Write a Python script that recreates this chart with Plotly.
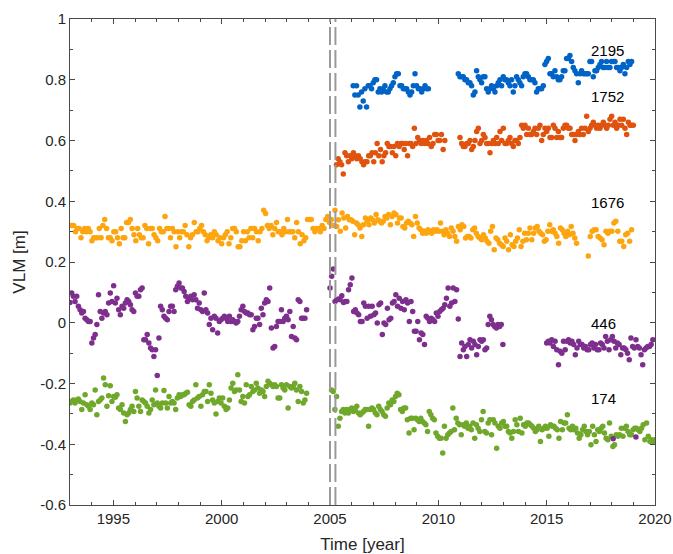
import numpy as np
import plotly.graph_objects as go

# ---------------- data (VLM in metres, time in decimal years) ----------------
# station 2195 (blue)
blue_seg_times = [(2006.07, 2009.54), (2010.92, 2018.92)]
blue_a = [0.78,0.75,0.78,0.75,0.71,0.76,0.73,0.77,0.71,0.78,0.78,0.77,0.79,0.80,0.80,0.76,0.77,0.76,0.77,0.78,
          0.76,0.76,0.77,0.78,0.79,0.81,0.82,0.82,0.78,0.78,0.77,0.77,0.77,0.76,0.75,0.76,0.78,0.82,0.78,0.77,
          0.77,0.76,0.77,0.78,0.77,0.77]
blue_b = [0.82,0.81,0.81,0.81,0.80,0.80,0.79,0.79,0.78,0.75,0.76,0.83,0.81,0.80,0.79,0.81,0.81,0.77,0.76,0.77,
          0.78,0.77,0.76,0.78,0.79,0.80,0.78,0.81,0.80,0.80,0.79,0.78,0.80,0.76,0.78,0.81,0.80,0.79,0.78,0.81,
          0.82,0.82,0.81,0.80,0.80,0.80,0.79,0.76,0.77,0.77,0.77,0.78,0.85,0.86,0.87,0.82,0.82,0.81,0.83,0.81,
          0.80,0.80,0.81,0.83,0.83,0.87,0.87,0.88,0.86,0.84,0.83,0.82,0.79,0.82,0.83,0.82,0.82,0.82,0.82,0.86,
          0.86,0.81,0.83,0.83,0.84,0.85,0.86,0.84,0.84,0.86,0.84,0.84,0.86,0.86,0.86,0.84,0.84,0.83,0.84,0.85,
          0.82,0.84,0.86,0.85,0.86]

# station 1752 (orange)
orange_seg_times = [(2005.30, 2010.30), (2011.00, 2019.00)]
orange_a = [0.52,0.54,0.53,0.52,0.49,0.56,0.55,0.53,0.55,0.54,0.56,0.55,0.54,0.55,0.54,0.53,0.52,0.53,0.53,0.55,
            0.55,0.56,0.53,0.56,0.59,0.55,0.57,0.53,0.55,0.56,0.59,0.58,0.58,0.56,0.58,0.55,0.59,0.58,0.59,0.59,
            0.57,0.59,0.55,0.59,0.59,0.58,0.64,0.59,0.61,0.60,0.59,0.60,0.59,0.60,0.59,0.61,0.58,0.59,0.62,0.62,
            0.60,0.60,0.62,0.57,0.60]
orange_b = [0.61,0.59,0.58,0.58,0.59,0.59,0.60,0.57,0.58,0.60,0.63,0.64,0.59,0.60,0.62,0.61,0.59,0.59,0.56,0.59,
            0.60,0.59,0.61,0.59,0.63,0.60,0.64,0.59,0.59,0.60,0.61,0.59,0.58,0.60,0.60,0.59,0.61,0.65,0.64,0.65,
            0.62,0.64,0.62,0.62,0.63,0.64,0.62,0.64,0.65,0.60,0.62,0.64,0.63,0.64,0.61,0.61,0.65,0.64,0.61,0.63,
            0.61,0.61,0.64,0.65,0.65,0.64,0.64,0.62,0.62,0.60,0.62,0.63,0.62,0.64,0.62,0.64,0.68,0.63,0.64,0.65,
            0.66,0.65,0.64,0.65,0.64,0.65,0.66,0.65,0.64,0.65,0.67,0.68,0.65,0.66,0.64,0.65,0.67,0.65,0.67,0.64,
            0.62,0.66,0.65,0.65,0.65]

# station 1676 (yellow)
yellow_seg_times = [(1993.00, 2005.23), (2005.31, 2016.38), (2016.92, 2018.92)]
yellow_a = [0.32,0.32,0.32,0.30,0.31,0.31,0.28,0.30,0.31,0.30,0.31,0.30,0.27,0.28,0.28,0.28,0.31,0.28,0.32,0.34,
            0.31,0.28,0.28,0.27,0.30,0.30,0.28,0.26,0.31,0.28,0.28,0.33,0.33,0.34,0.31,0.29,0.27,0.31,0.29,0.28,
            0.28,0.32,0.31,0.26,0.31,0.31,0.29,0.28,0.27,0.31,0.30,0.30,0.35,0.31,0.31,0.28,0.31,0.30,0.25,0.30,
            0.28,0.30,0.30,0.32,0.29,0.25,0.28,0.29,0.33,0.30,0.30,0.31,0.32,0.30,0.29,0.27,0.28,0.29,0.28,0.30,
            0.29,0.27,0.28,0.26,0.28,0.29,0.30,0.26,0.28,0.31,0.31,0.30,0.25,0.25,0.27,0.30,0.27,0.30,0.28,0.31,
            0.28,0.31,0.30,0.27,0.30,0.31,0.37,0.36,0.32,0.31,0.32,0.29,0.31,0.33,0.30,0.30,0.29,0.31,0.30,0.34,
            0.30,0.30,0.30,0.28,0.33,0.30,0.26,0.29,0.27,0.28,0.34,0.34,0.34,0.31,0.30,0.31,0.31,0.30,0.32,0.31,
            0.34,0.35,0.33,0.34,0.32,0.37]
yellow_b = [0.317,0.339,0.301,0.361,0.345,0.312,0.350,0.339,0.339,0.334,0.290,0.328,0.323,0.312,0.284,0.323,0.345,
            0.334,0.323,0.345,0.339,0.328,0.356,0.339,0.334,0.328,0.334,0.350,0.345,0.356,0.323,0.350,0.361,0.356,
            0.328,0.345,0.345,0.317,0.312,0.328,0.334,0.328,0.323,0.284,0.350,0.328,0.312,0.306,0.295,0.301,0.295,
            0.306,0.301,0.295,0.306,0.301,0.306,0.301,0.328,0.301,0.290,0.306,0.295,0.284,0.312,0.301,0.284,0.268,
            0.317,0.306,0.323,0.317,0.279,0.284,0.284,0.279,0.306,0.312,0.295,0.284,0.279,0.273,0.290,0.279,0.268,
            0.262,0.301,0.317,0.240,0.279,0.273,0.262,0.257,0.251,0.279,0.268,0.240,0.290,0.257,0.251,0.268,0.279,
            0.306,0.251,0.268,0.295,0.273,0.295,0.312,0.273,0.295,0.312,0.317,0.301,0.295,0.290,0.268,0.273,0.301,
            0.323,0.301,0.306,0.295,0.284,0.262,0.312,0.306,0.295,0.284,0.301,0.290,0.317,0.295,0.279,0.262]
yellow_c = [0.220,0.284,0.301,0.306,0.306,0.284,0.279,0.273,0.257,0.301,0.295,0.301,0.301,0.328,0.334,0.301,0.268,
            0.268,0.251,0.290,0.295,0.268,0.306]

# station 446 (purple)
purple_seg_times = [(1993.00, 2003.92), (2005.00, 2010.92), (2011.00, 2012.23), (2012.30, 2012.98), (2015.00, 2019.90)]
purple_a = [0.067,0.098,0.087,0.070,0.087,0.054,0.043,0.032,0.037,0.015,0.010,0.004,0.004,-0.067,-0.050,-0.039,
            -0.006,0.092,0.037,0.015,0.032,0.037,0.026,0.065,0.098,0.070,0.122,0.065,0.081,0.043,0.026,0.054,0.048,
            0.065,0.076,0.070,0.059,0.043,0.037,0.098,0.087,0.087,0.109,0.114,-0.056,-0.056,-0.039,-0.067,-0.083,
            -0.089,-0.111,-0.089,-0.174,-0.050,0.054,0.043,0.021,0.015,0.010,0.037,0.054,0.054,0.037,0.109,0.120,
            0.131,0.114,0.114,0.103,0.087,0.070,0.081,0.087,0.076,0.092,0.076,0.048,0.065,0.043,0.037,0.098,0.043,
            0.032,-0.006,0.015,-0.023,0.021,0.015,-0.034,0.004,0.010,0.015,0.021,0.015,0.004,0.021,0.004,0.010,
            0.004,-0.001,0.004,0.021,0.043,0.054,0.037,0.032,0.032,0.026,0.026,-0.023,-0.012,0.015,0.015,-0.006,
            0.048,0.026,0.065,0.076,0.070,0.114,-0.017,-0.083,-0.078,-0.012,0.004,0.004,0.043,0.004,0.015,0.021,
            0.010,0.037,-0.045,-0.012,-0.050,-0.056,0.076,0.070,0.015,0.015,0.015,0.043]
purple_b = [0.114,0.153,0.177,0.070,0.076,0.078,0.076,0.089,0.067,0.070,0.070,0.109,0.125,0.147,0.037,0.043,0.032,
            0.026,0.004,0.004,0.065,0.054,0.015,0.054,0.021,0.054,0.026,0.032,-0.001,0.059,0.065,-0.039,-0.001,
            -0.006,0.048,0.010,0.015,0.065,0.070,0.092,0.054,0.081,0.048,0.070,0.043,0.076,0.065,0.004,0.070,0.037,
            -0.028,-0.028,0.004,-0.056,-0.034,-0.039,-0.072,0.021,0.015,0.004,0.015,0.010,0.004,0.032,0.021,0.037,
            0.043,0.048,0.059,0.081,0.114,0.054,0.065,0.114,0.070,0.109,0.012]
purple_c = [-0.111,-0.067,-0.089,-0.078,-0.111,-0.072,-0.056,-0.083,-0.061,-0.072,-0.105,-0.078,-0.056,-0.061,
            -0.056,-0.089,-0.083]
purple_d = [-0.006,0.021,0.010,-0.006,-0.012,-0.017,-0.006,-0.012,-0.006,-0.072]
purple_e = [-0.067,-0.061,-0.067,-0.056,-0.078,-0.061,-0.089,-0.138,-0.094,-0.100,-0.061,-0.089,-0.061,-0.056,
            -0.067,-0.061,-0.072,-0.105,-0.083,-0.061,-0.072,-0.072,-0.083,-0.078,-0.089,-0.089,-0.072,-0.067,
            -0.083,-0.072,-0.089,-0.089,-0.067,-0.072,-0.083,-0.045,-0.061,-0.089,-0.056,-0.045,-0.061,-0.083,
            -0.067,-0.072,-0.105,-0.083,-0.083,-0.089,-0.100,-0.122,-0.050,-0.078,-0.083,-0.056,-0.078,-0.083,
            -0.105,-0.138,-0.089,-0.083,-0.078,-0.078,-0.072,-0.056]
purple_outlier_t = [2018.07, 2019.12]
purple_outlier_v = [-0.382, -0.376]

# station 174 (green)
green_seg_times = [(1993.00, 2003.92), (2005.07, 2020.00)]
green_a = [-0.264,-0.259,-0.254,-0.264,-0.254,-0.251,-0.259,-0.286,-0.264,-0.237,-0.270,-0.275,-0.286,-0.264,
           -0.270,-0.221,-0.303,-0.259,-0.254,-0.248,-0.182,-0.204,-0.275,-0.240,-0.207,-0.259,-0.243,-0.245,
           -0.237,-0.281,-0.286,-0.270,-0.297,-0.325,-0.303,-0.297,-0.286,-0.275,-0.292,-0.226,-0.248,-0.275,
           -0.292,-0.254,-0.259,-0.264,-0.275,-0.297,-0.286,-0.254,-0.270,-0.221,-0.264,-0.275,-0.281,-0.264,
           -0.223,-0.264,-0.281,-0.243,-0.264,-0.259,-0.264,-0.286,-0.248,-0.237,-0.243,-0.237,-0.237,-0.232,
           -0.229,-0.270,-0.275,-0.259,-0.254,-0.204,-0.248,-0.243,-0.275,-0.237,-0.226,-0.226,-0.259,-0.204,
           -0.232,-0.254,-0.264,-0.300,-0.259,-0.248,-0.264,-0.248,-0.275,-0.286,-0.281,-0.254,-0.215,-0.199,
           -0.226,-0.221,-0.171,-0.221,-0.259,-0.243,-0.264,-0.204,-0.243,-0.237,-0.210,-0.226,-0.221,-0.199,
           -0.215,-0.232,-0.221,-0.226,-0.243,-0.210,-0.193,-0.199,-0.204,-0.210,-0.204,-0.210,-0.248,-0.248,
           -0.204,-0.215,-0.221,-0.204,-0.281,-0.210,-0.215,-0.210,-0.199,-0.221,-0.259,-0.210,-0.226,-0.264,
           -0.254,-0.232]
green_b = [-0.221,-0.226,-0.286,-0.243,-0.341,-0.314,-0.292,-0.286,-0.297,-0.286,-0.297,-0.286,-0.281,-0.292,
           -0.286,-0.275,-0.297,-0.303,-0.297,-0.292,-0.286,-0.286,-0.341,-0.286,-0.281,-0.286,-0.297,-0.303,
           -0.275,-0.286,-0.292,-0.303,-0.308,-0.281,-0.264,-0.270,-0.254,-0.259,-0.243,-0.232,-0.237,-0.286,
           -0.292,-0.281,-0.281,-0.319,-0.363,-0.314,-0.314,-0.352,-0.314,-0.319,-0.325,-0.314,-0.325,-0.330,
           -0.336,-0.358,-0.292,-0.303,-0.314,-0.319,-0.363,-0.374,-0.380,-0.380,-0.429,-0.341,-0.380,-0.369,
           -0.363,-0.358,-0.281,-0.352,-0.314,-0.330,-0.336,-0.369,-0.336,-0.341,-0.330,-0.347,-0.341,-0.352,
           -0.330,-0.380,-0.336,-0.347,-0.358,-0.319,-0.292,-0.358,-0.363,-0.330,-0.319,-0.369,-0.319,-0.330,
           -0.413,-0.341,-0.347,-0.330,-0.325,-0.341,-0.341,-0.358,-0.363,-0.380,-0.358,-0.319,-0.336,-0.358,
           -0.314,-0.363,-0.336,-0.341,-0.330,-0.330,-0.336,-0.341,-0.347,-0.358,-0.352,-0.341,-0.391,-0.352,
           -0.347,-0.341,-0.347,-0.374,-0.336,-0.341,-0.341,-0.347,-0.352,-0.380,-0.325,-0.352,-0.330,-0.330,
           -0.303,-0.347,-0.352,-0.341,-0.352,-0.347,-0.363,-0.380,-0.369,-0.352,-0.341,-0.358,-0.369,-0.358,
           -0.402,-0.341,-0.369,-0.391,-0.352,-0.358,-0.347,-0.341,-0.363,-0.380,-0.385,-0.330,-0.374,-0.407,
           -0.402,-0.369,-0.374,-0.369,-0.347,-0.374,-0.347,-0.341,-0.358,-0.369,-0.369,-0.352,-0.347,-0.347,
           -0.352,-0.358,-0.347,-0.336,-0.385,-0.330,-0.374,-0.391,-0.385,-0.391,-0.385]

station_labels = ["2195", "1752", "1676", "446", "174"]
label_pos_t = [2017.83, 2017.83, 2017.83, 2017.61, 2017.61]
label_pos_v = [0.896, 0.745, 0.397, -0.001, -0.251]

break_years = [2005.0, 2005.25]

x_ticks = [1995, 2000, 2005, 2010, 2015, 2020]
y_ticks = [-0.6, -0.4, -0.2, 0, 0.2, 0.4, 0.6, 0.8, 1.0]
y_ticktext = ["-0.6", "-0.4", "-0.2", "0", "0.2", "0.4", "0.6", "0.8", "1"]

# ---------------- build figure ----------------
def series(seg_times, segs):
    t, v = [], []
    for (t0, t1), vals in zip(seg_times, segs):
        t.extend(np.linspace(t0, t1, len(vals)).tolist())
        v.extend(vals)
    return t, v

colors = {"blue": "#0063C6", "orange": "#E0530F", "yellow": "#FDA50F",
          "purple": "#7E2F8E", "green": "#6FA82B"}

fig = go.Figure()
gt, gv = series(green_seg_times, [green_a, green_b])
yt, yv = series(yellow_seg_times, [yellow_a, yellow_b, yellow_c])
pt, pv = series(purple_seg_times, [purple_a, purple_b, purple_c, purple_d, purple_e])
pt += purple_outlier_t
pv += purple_outlier_v
ot, ov = series(orange_seg_times, [orange_a, orange_b])
bt, bv = series(blue_seg_times, [blue_a, blue_b])

for (t, v, c) in [(gt, gv, "green"), (yt, yv, "yellow"), (pt, pv, "purple"),
                  (ot, ov, "orange"), (bt, bv, "blue")]:
    fig.add_trace(go.Scatter(x=t, y=v, mode="markers",
                             marker=dict(size=5.5, color=colors[c], line=dict(width=0)),
                             showlegend=False, hoverinfo="skip"))

for by in break_years:
    fig.add_shape(type="line", xref="x", yref="paper", x0=by, x1=by, y0=0, y1=1,
                  line=dict(color="#9a9a9a", width=2, dash="18px,5px"), layer="above")

for lab, lt, lv in zip(station_labels, label_pos_t, label_pos_v):
    fig.add_annotation(x=lt, y=lv, text=lab, showarrow=False, xanchor="center", yanchor="middle",
                       font=dict(family="Liberation Sans, Arial, sans-serif", size=15, color="#000000"))

axis_common = dict(showline=True, linecolor="#4a4a4a", linewidth=1, mirror="ticks",
                   ticks="inside", ticklen=5, tickcolor="#4a4a4a", tickwidth=1,
                   showgrid=False, zeroline=False, automargin=False,
                   tickfont=dict(family="Liberation Sans, Arial, sans-serif", size=15, color="#262626"))

fig.update_xaxes(range=[1993, 2020], tickvals=x_ticks,
                 minor=dict(ticks="inside", ticklen=3, dtick=1, tick0=1993, tickcolor="#4a4a4a", showgrid=False),
                 title=dict(text="Time [year]", standoff=12,
                            font=dict(family="Liberation Sans, Arial, sans-serif", size=17, color="#262626")),
                 **axis_common)
fig.update_yaxes(range=[-0.6, 1.0], tickvals=y_ticks, ticktext=y_ticktext,
                 minor=dict(ticks="inside", ticklen=3, dtick=0.1, tick0=0, tickcolor="#4a4a4a", showgrid=False),
                 title=dict(text="VLM [m]", standoff=10,
                            font=dict(family="Liberation Sans, Arial, sans-serif", size=17, color="#262626")),
                 **axis_common)

fig.update_layout(template="none", width=673, height=554, margin=dict(l=70, r=18, t=19, b=49),
                  paper_bgcolor="white", plot_bgcolor="white")

fig.write_html("out.html")
